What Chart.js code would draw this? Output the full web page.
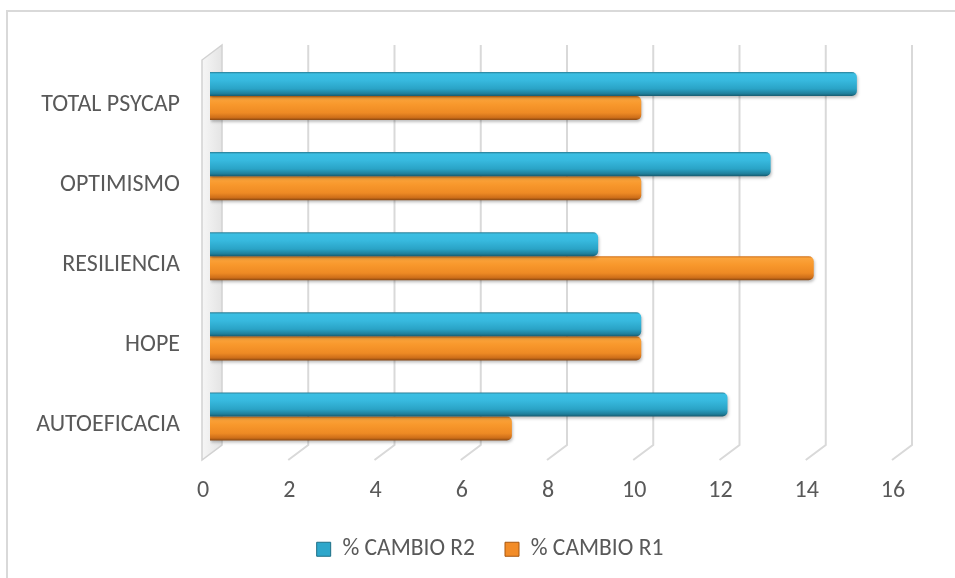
<!DOCTYPE html>
<html>
<head>
<meta charset="utf-8">
<script src="https://cdn.jsdelivr.net/npm/chart.js@4.4.1/dist/chart.umd.min.js"></script>
<style>
  html, body { margin: 0; padding: 0; background: #fff; }
  #wrap { width: 955px; height: 578px; position: relative; }
</style>
</head>
<body>
<div id="wrap"><canvas id="chartCambio" width="955" height="578"></canvas></div>
<script>
// ===========================================
// % CAMBIO por dimensión PsyCap (R1 vs R2)
// ===========================================

const categorias = ['TOTAL PSYCAP', 'OPTIMISMO', 'RESILIENCIA', 'HOPE', 'AUTOEFICACIA'];
const cambioR2 = [15, 13, 9, 10, 12];
const cambioR1 = [10, 10, 14, 10, 7];
const ticksX = [0, 2, 4, 6, 8, 10, 12, 14, 16];

const FONT = "Carlito, Lato, 'Open Sans', sans-serif";
const GRIS_TXT = '#595959';
const GRIS_GRID = '#d9d9d9';

// gradiente vertical por barra (efecto cilindro)
function gradienteBarra(c, stops, solido) {
    const chart = c.chart;
    const y = chart.scales && chart.scales.y;
    if (c.dataIndex === undefined || !y || !chart.chartArea) return solido;
    const centro = y.getPixelForValue(c.dataIndex);
    const alto = (y.getPixelForValue(1) - y.getPixelForValue(0)) * 0.6 / 2;
    const top = c.datasetIndex === 0 ? centro - alto : centro;
    const g = chart.ctx.createLinearGradient(0, top, 0, top + alto);
    stops.forEach(([p, col]) => g.addColorStop(p, col));
    return g;
}

const stopsAzul = [[0, '#2a7d95'], [0.08, '#3bbfe3'], [0.35, '#37b9de'], [0.7, '#2aa3c6'], [0.9, '#1f7f9b'], [1, '#175a6e']];
const stopsNaranja = [[0, '#d17018'], [0.08, '#fba43c'], [0.35, '#f8982c'], [0.7, '#ee8a24'], [0.9, '#cc6d19'], [1, '#874611']];

// pared lateral, rejilla en perspectiva y marco
const fondo3D = {
    id: 'fondo3D',
    afterLayout(chart) {
        // leyenda centrada bajo el área del gráfico
        const lg = chart.legend;
        if (lg) {
            lg.left += 40; lg.right += 40;
            lg.top -= 7; lg.bottom -= 7;
        }
    },
    beforeDraw(chart) {
        const { ctx, scales: { x } } = chart;
        ctx.save();
        // marco exterior
        ctx.strokeStyle = GRIS_GRID;
        ctx.lineWidth = 2;
        ctx.strokeRect(7, 11, 1100, 1100);

        const topY = 45, backY = 445, frontY = 460, dx = 12, fx = -8;
        // líneas de rejilla: fondo vertical + diagonal de piso
        ticksX.forEach(v => {
            if (v === 0) return;
            const px = x.getPixelForValue(v);
            ctx.strokeStyle = GRIS_GRID;
            ctx.lineWidth = 2;
            ctx.beginPath();
            ctx.moveTo(px + dx, topY);
            ctx.lineTo(px + dx, backY);
            ctx.lineTo(px + fx, frontY);
            ctx.stroke();
        });

        // pared izquierda
        const p0 = x.getPixelForValue(0);
        const g = ctx.createLinearGradient(p0 + fx, 0, p0 + dx, 0);
        g.addColorStop(0, '#f6f6f6');
        g.addColorStop(1, '#e4e4e4');
        ctx.fillStyle = g;
        ctx.beginPath();
        ctx.moveTo(p0 + dx, topY);
        ctx.lineTo(p0 + dx, backY);
        ctx.lineTo(p0 + fx, frontY);
        ctx.lineTo(p0 + fx, topY + 15);
        ctx.closePath();
        ctx.fill();
        ctx.strokeStyle = '#d2d2d2';
        ctx.lineWidth = 1.5;
        ctx.stroke();
        ctx.restore();
    },
    beforeDatasetsDraw(chart) {
        const ctx = chart.ctx;
        ctx.save();
        ctx.shadowColor = 'rgba(0,0,0,0.25)';
        ctx.shadowBlur = 3;
        ctx.shadowOffsetX = 1;
        ctx.shadowOffsetY = 2;
    },
    afterDatasetsDraw(chart) {
        chart.ctx.restore();
    }
};

new Chart(document.getElementById('chartCambio').getContext('2d'), {
    type: 'bar',
    data: {
        labels: categorias,
        datasets: [
            {
                label: '% CAMBIO R2',
                data: cambioR2,
                backgroundColor: c => gradienteBarra(c, stopsAzul, '#2ea7cb'),
                borderWidth: 0,
                borderRadius: { topRight: 5, bottomRight: 5 },
                borderSkipped: false
            },
            {
                label: '% CAMBIO R1',
                data: cambioR1,
                backgroundColor: c => gradienteBarra(c, stopsNaranja, '#f28c28'),
                borderWidth: 0,
                borderRadius: { topRight: 5, bottomRight: 5 },
                borderSkipped: false
            }
        ]
    },
    options: {
        indexAxis: 'y',
        responsive: false,
        animation: false,
        datasets: {
            bar: { categoryPercentage: 0.6, barPercentage: 1 }
        },
        layout: { padding: { left: 0, right: 55, top: 56, bottom: 0 } },
        scales: {
            x: {
                min: 0,
                max: 16,
                afterBuildTicks: s => { s.ticks = ticksX.map(v => ({ value: v })); },
                afterFit: s => { s.height = 58; },
                grid: { display: false, drawTicks: false },
                border: { display: false },
                ticks: {
                    color: GRIS_TXT,
                    font: { family: FONT, size: 24 },
                    padding: 20,
                    labelOffset: -7,
                    maxRotation: 0
                }
            },
            y: {
                afterFit: s => { s.width = 210; },
                grid: { display: false, drawTicks: false },
                border: { display: false },
                ticks: {
                    color: GRIS_TXT,
                    font: { family: FONT, size: 24 },
                    padding: 30,
                    labelOffset: 9
                }
            }
        },
        plugins: {
            legend: {
                position: 'bottom',
                labels: {
                    color: GRIS_TXT,
                    font: { family: FONT, size: 23.5 },
                    boxWidth: 14,
                    boxHeight: 14,
                    padding: 30,
                    generateLabels: chart => chart.data.datasets.map((d, i) => ({
                        text: d.label,
                        fillStyle: i === 0 ? '#2ea7cb' : '#f28c28',
                        strokeStyle: i === 0 ? '#1d6f86' : '#a8570f',
                        lineWidth: 1,
                        datasetIndex: i,
                        fontColor: GRIS_TXT
                    }))
                }
            },
            tooltip: { enabled: false }
        }
    },
    plugins: [fondo3D]
});
</script>
</body>
</html>
